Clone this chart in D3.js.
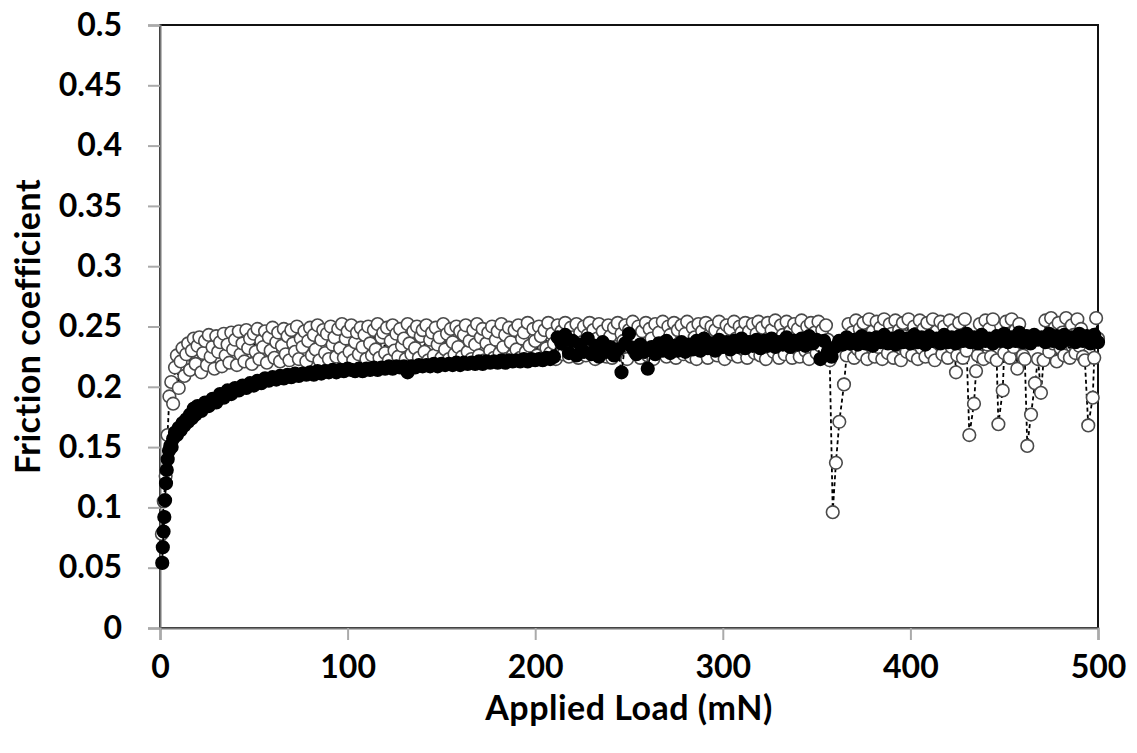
<!DOCTYPE html>
<html>
<head>
<meta charset="utf-8">
<script src="https://cdn.jsdelivr.net/npm/d3@7/dist/d3.min.js"></script>
<style>
  body { margin: 0; background: #fff; }
  svg { display: block; }
  text { font-family: Lato, "Open Sans", sans-serif; font-weight: bold; fill: #000; }
</style>
</head>
<body>
<div id="chart"></div>
<script>
const xTicks = [0, 100, 200, 300, 400, 500];
const yTicks = [0, 0.05, 0.1, 0.15, 0.2, 0.25, 0.3, 0.35, 0.4, 0.45, 0.5];

// open markers: [load (mN), friction coefficient]
const openSeries = [
  [1,0.078],[2,0.105],[3,0.126],[4,0.160],[5,0.192],[6,0.204],[7,0.186],[8,0.216],[9,0.226],[10,0.199],
  [11,0.221],[12,0.232],[13,0.209],[14,0.227],[15,0.236],[16,0.214],[17,0.230],[18,0.240],[19,0.219],[20,0.234],
  [21,0.241],[22,0.212],[23,0.228],[24,0.238],[25,0.218],[26,0.243],[27,0.225],[28,0.233],[29,0.215],[30,0.242],
  [31,0.229],[32,0.237],[33,0.217],[34,0.244],[35,0.226],[36,0.235],[37,0.220],[38,0.245],[39,0.231],[40,0.239],
  [41,0.218],[42,0.246],[43,0.227],[44,0.236],[45,0.221],[46,0.247],[47,0.232],[48,0.240],[49,0.219],[50,0.244],
  [51,0.229],[52,0.248],[53,0.223],[54,0.238],[55,0.233],[56,0.246],[57,0.220],[58,0.241],[59,0.230],[60,0.249],
  [61,0.224],[62,0.237],[63,0.245],[64,0.221],[65,0.234],[66,0.248],[67,0.227],[68,0.242],[69,0.222],[70,0.247],
  [71,0.236],[72,0.229],[73,0.250],[74,0.223],[75,0.240],[76,0.233],[77,0.246],[78,0.221],[79,0.238],[80,0.249],
  [81,0.226],[82,0.243],[83,0.231],[84,0.251],[85,0.222],[86,0.239],[87,0.247],[88,0.228],[89,0.244],[90,0.223],
  [91,0.250],[92,0.235],[93,0.241],[94,0.225],[95,0.248],[96,0.232],[97,0.252],[98,0.224],[99,0.240],[100,0.246],
  [101,0.229],[102,0.251],[103,0.222],[104,0.237],[105,0.245],[106,0.227],[107,0.249],[108,0.233],[109,0.243],[110,0.223],
  [111,0.250],[112,0.236],[113,0.226],[114,0.247],[115,0.231],[116,0.252],[117,0.224],[118,0.241],[119,0.245],[120,0.228],
  [121,0.249],[122,0.222],[123,0.238],[124,0.251],[125,0.230],[126,0.244],[127,0.225],[128,0.248],[129,0.234],[130,0.240],
  [131,0.223],[132,0.252],[133,0.236],[134,0.227],[135,0.246],[136,0.232],[137,0.250],[138,0.224],[139,0.242],[140,0.247],
  [141,0.229],[142,0.251],[143,0.222],[144,0.239],[145,0.245],[146,0.226],[147,0.249],[148,0.235],[149,0.241],[150,0.224],
  [151,0.252],[152,0.231],[153,0.244],[154,0.223],[155,0.248],[156,0.237],[157,0.227],[158,0.250],[159,0.233],[160,0.246],
  [161,0.225],[162,0.243],[163,0.251],[164,0.229],[165,0.238],[166,0.223],[167,0.247],[168,0.235],[169,0.252],[170,0.226],
  [171,0.241],[172,0.248],[173,0.222],[174,0.236],[175,0.245],[176,0.230],[177,0.250],[178,0.224],[179,0.239],[180,0.246],
  [181,0.228],[182,0.252],[183,0.233],[184,0.243],[185,0.223],[186,0.249],[187,0.237],[188,0.226],[189,0.247],[190,0.231],
  [191,0.251],[192,0.224],[193,0.240],[194,0.245],[195,0.229],[196,0.253],[197,0.234],[198,0.223],[199,0.248],[200,0.238],
  [201,0.226],[202,0.250],[203,0.242],[204,0.224],[205,0.247],[206,0.232],[207,0.253],[208,0.228],[209,0.244],[210,0.236],
  [211,0.223],[212,0.251],[213,0.239],[214,0.246],[215,0.227],[216,0.253],[217,0.233],[218,0.225],[219,0.249],[220,0.241],
  [221,0.230],[222,0.252],[223,0.224],[224,0.245],[225,0.237],[226,0.250],[227,0.226],[228,0.243],[229,0.253],[230,0.231],
  [231,0.247],[232,0.223],[233,0.240],[234,0.252],[235,0.228],[236,0.246],[237,0.235],[238,0.225],[239,0.251],[240,0.242],
  [241,0.224],[242,0.249],[243,0.233],[244,0.253],[245,0.227],[246,0.244],[247,0.238],[248,0.251],[249,0.223],[250,0.247],
  [251,0.236],[252,0.254],[253,0.229],[254,0.242],[255,0.250],[256,0.224],[257,0.246],[258,0.232],[259,0.253],[260,0.226],
  [261,0.248],[262,0.240],[263,0.223],[264,0.252],[265,0.234],[266,0.245],[267,0.228],[268,0.254],[269,0.237],[270,0.225],
  [271,0.250],[272,0.243],[273,0.230],[274,0.253],[275,0.224],[276,0.247],[277,0.235],[278,0.251],[279,0.227],[280,0.244],
  [281,0.254],[282,0.232],[283,0.225],[284,0.249],[285,0.241],[286,0.223],[287,0.252],[288,0.236],[289,0.246],[290,0.229],
  [291,0.253],[292,0.224],[293,0.243],[294,0.250],[295,0.231],[296,0.247],[297,0.226],[298,0.254],[299,0.238],[300,0.244],
  [301,0.223],[302,0.251],[303,0.234],[304,0.248],[305,0.227],[306,0.254],[307,0.240],[308,0.225],[309,0.250],[310,0.245],
  [311,0.231],[312,0.253],[313,0.224],[314,0.246],[315,0.237],[316,0.252],[317,0.228],[318,0.244],[319,0.254],[320,0.226],
  [321,0.249],[322,0.235],[323,0.223],[324,0.253],[325,0.241],[326,0.247],[327,0.229],[328,0.255],[329,0.233],[330,0.224],
  [331,0.251],[332,0.243],[333,0.227],[334,0.254],[335,0.238],[336,0.246],[337,0.224],[338,0.252],[339,0.232],[340,0.248],
  [341,0.225],[342,0.255],[343,0.240],[344,0.230],[345,0.250],[346,0.223],[347,0.253],[348,0.236],[349,0.245],[350,0.228],
  [351,0.254],[352,0.234],[353,0.247],[354,0.224],[355,0.251],[356,0.239],[357,0.222],
  [358.6,0.096],[360.3,0.137],[362.1,0.171],[364.6,0.202],
  [366,0.226],[367,0.252],[368,0.238],[369,0.245],[370,0.224],
  [371,0.255],[372,0.231],[373,0.248],[374,0.227],[375,0.253],[376,0.241],[377,0.223],[378,0.256],[379,0.236],[380,0.246],
  [381,0.225],[382,0.254],[383,0.233],[384,0.249],[385,0.223],[386,0.256],[387,0.240],[388,0.228],[389,0.252],[390,0.244],
  [391,0.224],[392,0.255],[393,0.235],[394,0.247],[395,0.222],[396,0.253],[397,0.242],[398,0.229],[399,0.256],[400,0.237],
  [401,0.226],[402,0.250],[403,0.244],[404,0.223],[405,0.255],[406,0.232],[407,0.248],[408,0.225],[409,0.253],[410,0.239],
  [411,0.228],[412,0.256],[413,0.222],[414,0.246],[415,0.236],[416,0.254],[417,0.227],[418,0.250],[419,0.241],[420,0.224],
  [421,0.255],[422,0.233],[423,0.247],[424.3,0.212],[425,0.226],[426,0.253],[427,0.240],[428,0.224],[429,0.256],[430,0.230],
  [431.4,0.160],[433.9,0.186],[435,0.213],
  [436,0.226],[437,0.252],[438,0.243],[439,0.223],[440,0.255],[441,0.235],[442,0.248],[443,0.225],[444,0.256],[445,0.238],[446,0.222],
  [446.9,0.169],[449.2,0.197],
  [450,0.228],[451,0.254],[452,0.241],[453,0.224],[454,0.256],[455,0.233],[456,0.247],[457,0.215],
  [458,0.252],[459,0.237],[460,0.226],[461,0.223],
  [462.3,0.151],[464.3,0.177],[466.4,0.203],
  [468,0.223],[469.6,0.195],[471,0.222],
  [472,0.255],[473,0.241],[474,0.229],[475,0.257],[476,0.236],[477,0.249],[478,0.221],
  [479,0.253],[480,0.232],[481,0.245],[482,0.226],[483,0.257],[484,0.239],[485,0.224],[486,0.251],[487,0.243],[488,0.228],
  [489,0.256],[490,0.234],[491,0.248],[492,0.225],[493,0.222],
  [494.8,0.168],[497.2,0.191],
  [498,0.224],[499,0.257],[500,0.240]
];

// filled markers: [load (mN), friction coefficient]
const filledSeries = [
  [1.2,0.054],[1.5,0.067],[1.9,0.080],[2.3,0.092],[2.7,0.106],[3.2,0.120],[3.6,0.131],[4.1,0.140],[4.8,0.147],[5.5,0.151],
  [6.2,0.150],[7,0.157],[8,0.162],[9,0.160],[10,0.166],[11,0.164],[12,0.170],[13,0.168],[14,0.173],[15,0.171],
  [16,0.177],[17,0.174],[18,0.182],[19,0.177],[20,0.184],[22,0.180],[24,0.187],[26,0.184],[28,0.190],[30,0.187],
  [32,0.194],[34,0.191],[36,0.197],[38,0.194],[40,0.199],[42,0.197],[44,0.201],[46,0.199],[48,0.203],[50,0.201],
  [52,0.205],[54,0.203],[56,0.207],[58,0.205],[60,0.208],[62,0.206],[64,0.209],[66,0.207],[68,0.210],[70,0.208],
  [72,0.211],[74,0.209],[76,0.211],[78,0.210],[80,0.212],[82,0.210],[84,0.213],[86,0.211],[88,0.213],[90,0.212],
  [92,0.214],[94,0.212],[96,0.214],[98,0.213],[100,0.215],[102,0.214],[104,0.213],[106,0.215],[108,0.213],[110,0.215],
  [112,0.214],[114,0.216],[116,0.214],[118,0.216],[120,0.215],[122,0.217],[124,0.215],[126,0.217],[128,0.216],[130,0.217],
  [132,0.212],[134,0.217],[136,0.216],[138,0.218],[140,0.217],[142,0.218],[144,0.217],[146,0.219],[148,0.217],[150,0.219],
  [152,0.218],[154,0.219],[156,0.218],[158,0.220],[160,0.218],[162,0.220],[164,0.219],[166,0.220],[168,0.219],[170,0.221],
  [172,0.219],[174,0.221],[176,0.220],[178,0.221],[180,0.220],[182,0.222],[184,0.220],[186,0.222],[188,0.221],[190,0.222],
  [192,0.221],[194,0.223],[196,0.221],[198,0.223],[200,0.222],[202,0.223],[204,0.222],[206,0.224],[208,0.223],[210,0.225],
  [212,0.241],[214,0.236],[216,0.243],[218,0.228],[220,0.238],[222,0.226],[224,0.235],[226,0.229],[228,0.240],[230,0.227],
  [232,0.234],[234,0.225],[236,0.237],[238,0.229],[240,0.233],[242,0.226],[244,0.231],[246,0.212],[248,0.236],[250,0.244],
  [252,0.232],[254,0.227],[256,0.235],[258,0.229],[260,0.215],[262,0.233],[264,0.227],[266,0.236],[268,0.230],[270,0.238],
  [272,0.228],[274,0.234],[276,0.230],[278,0.237],[280,0.229],[282,0.235],[284,0.231],[286,0.238],[288,0.230],[290,0.240],
  [292,0.232],[294,0.236],[296,0.230],[298,0.239],[300,0.233],[302,0.237],[304,0.231],[306,0.238],[308,0.233],[310,0.240],
  [312,0.232],[314,0.237],[316,0.234],[318,0.239],[320,0.232],[322,0.238],[324,0.234],[326,0.240],[328,0.233],[330,0.237],
  [332,0.235],[334,0.241],[336,0.233],[338,0.238],[340,0.235],[342,0.240],[344,0.234],[346,0.242],[348,0.236],[350,0.239],
  [352,0.223],[354,0.238],[356,0.229],[358,0.225],[360,0.233],[362,0.238],[364,0.235],[366,0.241],[368,0.236],[370,0.239],
  [372,0.235],[374,0.242],[376,0.236],[378,0.240],[380,0.234],[382,0.241],[384,0.237],[386,0.243],[388,0.236],[390,0.240],
  [392,0.235],[394,0.242],[396,0.237],[398,0.240],[400,0.236],[402,0.243],[404,0.237],[406,0.241],[408,0.235],[410,0.242],
  [412,0.238],[414,0.240],[416,0.236],[418,0.243],[420,0.237],[422,0.241],[424,0.236],[426,0.242],[428,0.238],[430,0.244],
  [432,0.237],[434,0.241],[436,0.236],[438,0.243],[440,0.238],[442,0.240],[444,0.236],[446,0.242],[448,0.238],[450,0.244],
  [452,0.237],[454,0.241],[456,0.238],[458,0.245],[460,0.237],[462,0.242],[464,0.236],[466,0.243],[468,0.239],[470,0.241],
  [472,0.237],[474,0.244],[476,0.238],[478,0.242],[480,0.236],[482,0.243],[484,0.239],[486,0.241],[488,0.237],[490,0.244],
  [492,0.238],[494,0.242],[496,0.236],[498,0.243],[500,0.237]
];

const totalWidth = 1137;
const totalHeight = 753;
const margin = { top: 25, right: 39, bottom: 125, left: 160 };
const width = totalWidth - margin.left - margin.right;
const height = totalHeight - margin.top - margin.bottom;

const svg = d3.select("#chart").append("svg")
    .attr("width", totalWidth)
    .attr("height", totalHeight);

const g = svg.append("g")
    .attr("transform", `translate(${margin.left},${margin.top})`);

// Scales
const x = d3.scaleLinear().domain([0, 500]).range([0, width]);
const y = d3.scaleLinear().domain([0, 0.5]).range([height, 0]);

// Frame
g.append("rect")
    .attr("width", width)
    .attr("height", height)
    .attr("fill", "none")
    .attr("stroke", "#111")
    .attr("stroke-width", 2);

// Axes
const yAxis = g.append("g")
    .call(d3.axisLeft(y)
        .tickValues(yTicks)
        .tickSize(12)
        .tickPadding(26)
        .tickFormat(d => d === 0 ? "0" : String(+d.toFixed(2))));

const xAxis = g.append("g")
    .attr("transform", `translate(0,${height})`)
    .call(d3.axisBottom(x)
        .tickValues(xTicks)
        .tickSize(12)
        .tickPadding(15));

[yAxis, xAxis].forEach(ax => {
    ax.select(".domain").attr("stroke", "#777").attr("stroke-width", 2);
    ax.selectAll(".tick line").attr("stroke", "#aaa").attr("stroke-width", 2);
    ax.selectAll(".tick text")
        .style("font-size", "32px")
        .style("font-family", "Lato, sans-serif")
        .style("font-weight", "bold")
        .attr("fill", "#000");
});

// Axis titles
g.append("text")
    .attr("x", width / 2)
    .attr("y", height + 92)
    .attr("text-anchor", "middle")
    .style("font-size", "34px")
    .style("letter-spacing", "0.5px")
    .text("Applied Load (mN)");

g.append("text")
    .attr("transform", "rotate(-90)")
    .attr("x", -height / 2)
    .attr("y", -margin.left + 40)
    .attr("text-anchor", "middle")
    .style("font-size", "34px")
    .style("letter-spacing", "0.5px")
    .text("Friction coefficient");

// Series
const line = d3.line()
    .x(d => x(d[0]))
    .y(d => y(d[1]));

function drawSeries(data, fill, stroke) {
    g.append("path")
        .datum(data)
        .attr("fill", "none")
        .attr("stroke", "#000")
        .attr("stroke-width", 1.8)
        .attr("stroke-dasharray", "4,3")
        .attr("d", line);

    g.append("g")
        .selectAll("circle")
        .data(data)
        .enter()
        .append("circle")
        .attr("cx", d => x(d[0]))
        .attr("cy", d => y(d[1]))
        .attr("r", 6.3)
        .attr("fill", fill)
        .attr("stroke", stroke)
        .attr("stroke-width", 1.6);
}

drawSeries(openSeries, "#fff", "#4a4a4a");
drawSeries(filledSeries, "#000", "#000");
</script>
</body>
</html>
